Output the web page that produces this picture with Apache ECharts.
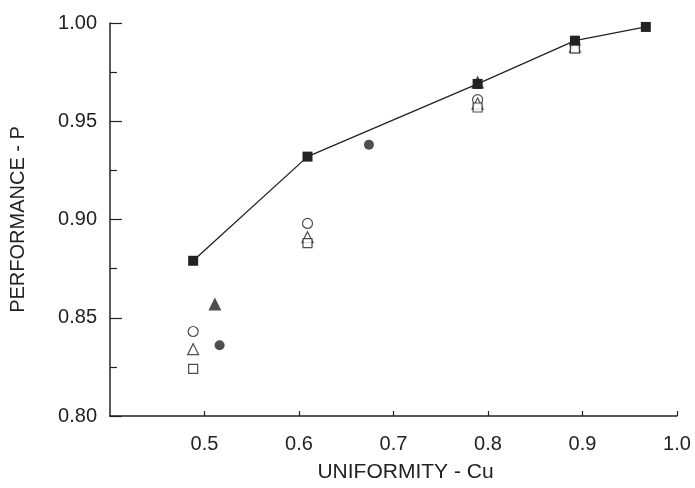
<!DOCTYPE html>
<html>
<head>
<meta charset="utf-8">
<script src="https://cdn.jsdelivr.net/npm/echarts@6/dist/echarts.min.js"></script>
<style>html,body{margin:0;padding:0;background:#fff}#c{width:695px;height:488px}</style>
</head>
<body>
<div id="c"></div>
<script>
// Filled squares joined by a line
const lineX = [0.488, 0.609, 0.789, 0.892, 0.967];
const lineY = [0.879, 0.932, 0.969, 0.991, 0.998];
// Filled triangles
const filledTriX = [0.511, 0.789];
const filledTriY = [0.857, 0.970];
// Filled circles
const filledCircX = [0.516, 0.674];
const filledCircY = [0.836, 0.938];
// Open circles
const openCircX = [0.488, 0.609, 0.789, 0.892];
const openCircY = [0.843, 0.898, 0.961, 0.989];
// Open triangles
const openTriX = [0.488, 0.609, 0.789, 0.892];
const openTriY = [0.834, 0.891, 0.959, 0.988];
// Open squares
const openSqX = [0.488, 0.609, 0.789, 0.892];
const openSqY = [0.824, 0.888, 0.957, 0.987];

const xTicks = [0.5, 0.6, 0.7, 0.8, 0.9, 1.0];
const yTicks = [0.80, 0.85, 0.90, 0.95, 1.00];

const ink = '#222';
const font = 'Liberation Sans, Arial, sans-serif';
const pair = (xs, ys) => xs.map((x, i) => [x, ys[i]]);

const chart = echarts.init(document.getElementById('c'), null, {renderer: 'canvas'});
chart.setOption({
  animation: false,
  backgroundColor: '#fff',
  grid: {left: 102, right: 18, top: 23, bottom: 55, containLabel: false},
  xAxis: {
    type: 'value', min: 0.4, max: 1.0, interval: 0.1,
    name: 'UNIFORMITY - Cu', nameLocation: 'middle', nameGap: 46,
    nameTextStyle: {color: ink, fontSize: 21, fontFamily: font, padding: [0, 0, 0, 24]},
    axisLine: {show: true, lineStyle: {color: ink, width: 1.5}},
    axisTick: {show: true, inside: true, length: 5, lineStyle: {color: ink, width: 1.2}},
    axisLabel: {color: ink, fontSize: 20, fontFamily: font, margin: 18, showMinLabel: false,
      formatter: v => xTicks.some(t => Math.abs(t - v) < 1e-6) ? v.toFixed(1) : ''},
    splitLine: {show: false}
  },
  yAxis: {
    type: 'value', min: 0.8, max: 1.0, interval: 0.05,
    name: 'PERFORMANCE - P', nameLocation: 'middle', nameGap: 82,
    nameTextStyle: {color: ink, fontSize: 20, fontFamily: font},
    axisLine: {show: true, lineStyle: {color: ink, width: 1.5}},
    axisTick: {show: true, inside: true, length: 12, lineStyle: {color: ink, width: 1.2}},
    minorTick: {show: true, splitNumber: 2, length: 7, lineStyle: {color: ink, width: 1.2}},
    axisLabel: {color: ink, fontSize: 20, fontFamily: font, margin: 13,
      formatter: v => yTicks.some(t => Math.abs(t - v) < 1e-6) ? v.toFixed(2) : ''},
    splitLine: {show: false}
  },
  series: [
    {type: 'line', data: pair(lineX, lineY), symbol: 'rect', symbolSize: 10,
      lineStyle: {color: ink, width: 1.3}, itemStyle: {color: ink}, z: 5},
    {type: 'scatter', data: pair(filledTriX, filledTriY), symbol: 'triangle', symbolSize: 13,
      itemStyle: {color: ink}, z: 4},
    {type: 'scatter', data: pair(filledCircX, filledCircY), symbol: 'circle', symbolSize: 10,
      itemStyle: {color: ink}, z: 4},
    {type: 'scatter', data: pair(openCircX, openCircY), symbol: 'circle', symbolSize: 10,
      itemStyle: {color: '#fff', borderColor: ink, borderWidth: 1.2}, z: 3},
    {type: 'scatter', data: pair(openTriX, openTriY), symbol: 'triangle', symbolSize: 11,
      itemStyle: {color: '#fff', borderColor: ink, borderWidth: 1.2}, z: 3},
    {type: 'scatter', data: pair(openSqX, openSqY), symbol: 'rect', symbolSize: 9,
      itemStyle: {color: '#fff', borderColor: ink, borderWidth: 1.2}, z: 3}
  ]
});
</script>
</body>
</html>
